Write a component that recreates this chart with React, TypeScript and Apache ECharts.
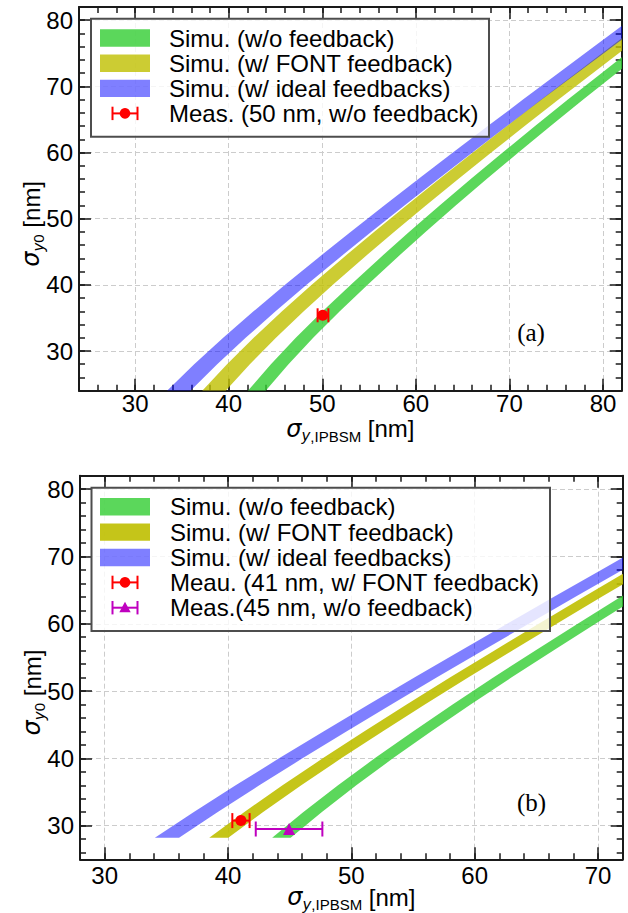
import React, { useEffect, useRef } from "react";
import * as echarts from "echarts";

// ---------- data ----------
// Panel (a): bands as sigma_y0 levels with lower / upper sigma_y,IPBSM
const topLevels = [24, 28, 32, 36, 40, 44, 48, 52, 56, 60, 64, 68, 72, 76, 80];
const topBlueLo = [33.41, 36.31, 39.41, 42.65, 46.02, 49.48, 53.02, 56.62, 60.27, 63.96, 67.69, 71.45, 75.22, 79.01, 82.82];
const topBlueHi = [35.91, 38.77, 41.81, 45.01, 48.32, 51.74, 55.22, 58.78, 62.39, 66.04, 69.73, 73.45, 77.22, 81.01, 84.82];
const topYellowLo = [37.17, 39.82, 42.67, 45.7, 48.87, 52.15, 55.53, 58.99, 62.52, 66.1, 69.73, 73.39, 77.1, 80.81, 84.54];
const topYellowHi = [39.67, 42.26, 45.05, 48.02, 51.13, 54.35, 57.67, 61.07, 64.54, 68.06, 71.63, 75.25, 78.9, 82.61, 86.34];
const topGreenLo = [42.05, 44.51, 47.17, 50.03, 53.05, 56.11, 59.27, 62.54, 65.87, 69.28, 72.74, 76.25, 79.83, 83.42, 87.05];
const topGreenHi = [43.95, 46.39, 49.03, 51.87, 54.85, 57.89, 61.03, 64.26, 67.57, 70.96, 74.4, 77.89, 81.43, 85.02, 88.65];
const topMeasX = [50.05];
const topMeasY = [35.4];
const topMeasLo = [49.5];
const topMeasHi = [50.65];

// Panel (b)
const botLevels = [28.2, 32, 36, 40, 44, 48, 52, 56, 60, 64, 68, 72];
const botBlueLo = [34.07, 37.2, 40.62, 44.14, 47.74, 51.4, 55.11, 58.85, 62.63, 66.43, 70.25, 74.1];
const botBlueHi = [36.03, 39.14, 42.54, 46.04, 49.6, 53.24, 56.91, 60.63, 64.39, 68.17, 71.97, 75.8];
const botYellowLo = [38.48, 41.3, 44.42, 47.68, 51.03, 54.48, 57.99, 61.57, 65.19, 68.86, 72.55, 76.28];
const botYellowHi = [40.02, 42.82, 45.94, 49.18, 52.53, 55.96, 59.47, 63.03, 66.65, 70.3, 73.99, 77.72];
const botGreenLo = [43.58, 46.09, 48.92, 51.89, 55.0, 58.21, 61.51, 64.89, 68.35, 71.85, 75.4, 78.99];
const botGreenHi = [45.08, 47.59, 50.4, 53.37, 56.46, 59.67, 62.97, 66.35, 69.79, 73.29, 76.84, 80.43];
const botFontX = [41.05];
const botFontY = [30.75];
const botFontLo = [40.35];
const botFontHi = [41.75];
const botNoFbX = [44.95];
const botNoFbY = [29.5];
const botNoFbLo = [42.25];
const botNoFbHi = [47.65];

const topLegendLabels = [
  "Simu. (w/o feedback)",
  "Simu. (w/ FONT feedback)",
  "Simu. (w/ ideal feedbacks)",
  "Meas. (50 nm, w/o feedback)",
];
const botLegendLabels = [
  "Simu. (w/o feedback)",
  "Simu. (w/ FONT feedback)",
  "Simu. (w/ ideal feedbacks)",
  "Meau. (41 nm, w/ FONT feedback)",
  "Meas.(45 nm, w/o feedback)",
];

// ---------- styles ----------
const GREEN = "rgba(50,205,50,0.8)";
const YELLOW_A = "rgba(191,191,0,0.8)";
const YELLOW_B = "rgba(191,191,0,0.9)";
const BLUE = "rgba(0,0,255,0.5)";
const RED = "#ff0000";
const MAGENTA = "#bf00bf";
const SANS = "'Liberation Sans', Arial, Helvetica, sans-serif";
const MATH = "'DejaVu Sans', sans-serif";
const SERIF = "'Liberation Serif', 'Times New Roman', serif";
const INK = "#1a1a1a";

function bandSeries(name: string, levels: number[], lo: number[], hi: number[], color: string, ai: number) {
  const data = levels.map((y, i) => [lo[i], y, hi[i]]);
  return {
    type: "custom",
    name,
    xAxisIndex: ai,
    yAxisIndex: ai,
    clip: true,
    z: 2,
    silent: true,
    data,
    encode: { x: [0, 2], y: 1 },
    renderItem: (params: any, api: any) => {
      if (params.dataIndex !== 0) return null;
      const left = data.map((d) => api.coord([d[0], d[1]]));
      const right = data.map((d) => api.coord([d[2], d[1]])).reverse();
      return {
        type: "polygon",
        shape: { points: left.concat(right) },
        style: { fill: color },
      };
    },
  };
}

function errSeries(xs: number[], ys: number[], lo: number[], hi: number[], color: string, ai: number, cap: number) {
  const data = xs.map((x, i) => [x, ys[i], lo[i], hi[i]]);
  return {
    type: "custom",
    xAxisIndex: ai,
    yAxisIndex: ai,
    z: 4,
    silent: true,
    data,
    encode: { x: [0, 2, 3], y: 1 },
    renderItem: (_p: any, api: any) => {
      const y = api.value(1);
      const a = api.coord([api.value(2), y]);
      const b = api.coord([api.value(3), y]);
      const st = { stroke: color, lineWidth: 2 };
      return {
        type: "group",
        children: [
          { type: "line", shape: { x1: a[0], y1: a[1], x2: b[0], y2: b[1] }, style: st },
          { type: "line", shape: { x1: a[0], y1: a[1] - cap, x2: a[0], y2: a[1] + cap }, style: st },
          { type: "line", shape: { x1: b[0], y1: b[1] - cap, x2: b[0], y2: b[1] + cap }, style: st },
        ],
      };
    },
  };
}

function markSeries(xs: number[], ys: number[], color: string, symbol: string, size: number, ai: number) {
  return {
    type: "scatter",
    xAxisIndex: ai,
    yAxisIndex: ai,
    z: 5,
    silent: true,
    symbol,
    symbolSize: size,
    itemStyle: { color, opacity: 1 },
    data: xs.map((x, i) => [x, ys[i]]),
  };
}

function axis(gridIndex: number, min: number, max: number, position: string, major: boolean, label: boolean, split: boolean, margin: number, extra: any = {}) {
  return {
    type: "value",
    gridIndex,
    min,
    max,
    position,
    minInterval: major ? 10 : 2,
    maxInterval: major ? 10 : 2,
    splitNumber: major ? 5 : 29,
    axisLine: { show: major, onZero: false, lineStyle: { color: INK, width: 2 } },
    axisTick: { show: true, inside: true, length: major ? 12 : 6, lineStyle: { color: INK, width: 1.5 } },
    axisLabel: {
      show: label,
      margin,
      fontSize: 24,
      fontFamily: SANS,
      color: "#000",
      formatter: (v: number) => (Math.abs(v % 10) < 1e-6 ? String(Math.round(v)) : ""),
    },
    splitLine: { show: split, lineStyle: { color: "#cccccc", width: 1, type: [5, 3] } },
    minorTick: { show: false },
    minorSplitLine: { show: false },
    axisPointer: { show: false },
    ...extra,
  };
}

const nameRich = {
  s: { fontFamily: MATH, fontStyle: "italic", fontSize: 24, lineHeight: 30, color: "#000" },
  sy: { fontFamily: MATH, fontStyle: "italic", fontSize: 15, lineHeight: 16, verticalAlign: "bottom", color: "#000" },
  sr: { fontFamily: SANS, fontSize: 15, lineHeight: 16, verticalAlign: "bottom", color: "#000" },
  n: { fontFamily: SANS, fontSize: 24, lineHeight: 30, color: "#000" },
};
const xName = "{s|σ}{sy|y}{sr|,IPBSM}{n| [nm]}";
const yName = "{s|σ}{sy|y}{sr|0}{n| [nm]}";

function xAxesFor(g: number, min: number, max: number, labelMargin: number) {
  return [
    axis(g, min, max, "bottom", true, true, true, labelMargin, {
      name: xName,
      nameLocation: "middle",
      nameGap: 23,
      nameMoveOverlap: false,
      nameTextStyle: { rich: nameRich },
    }),
    axis(g, min, max, "top", true, false, false, 0),
    axis(g, min, max, "bottom", false, false, false, 0),
    axis(g, min, max, "top", false, false, false, 0),
  ];
}
function yAxesFor(g: number, min: number, max: number) {
  return [
    axis(g, min, max, "left", true, true, true, 6, {
      name: yName,
      nameLocation: "middle",
      nameGap: 33,
      nameMoveOverlap: false,
      nameTextStyle: { rich: nameRich, padding: [0, 50, 0, 0] },
    }),
    axis(g, min, max, "right", true, false, false, 0),
    axis(g, min, max, "left", false, false, false, 0),
    axis(g, min, max, "right", false, false, false, 0),
  ];
}

type Row = { kind: "patch" | "err"; y: number; color: string; symbol?: string; label: string };

function legendGraphic(box: { x: number; y: number; width: number; height: number }, textX: number, rows: Row[]) {
  const els: any[] = [
    {
      type: "rect",
      z: 100,
      shape: box,
      style: { fill: "rgba(255,255,255,0.8)", stroke: "#4d4d4d", lineWidth: 2 },
    },
  ];
  rows.forEach((r) => {
    if (r.kind === "patch") {
      els.push({ type: "rect", z: 101, shape: { x: 100, y: r.y - 8.7, width: 50, height: 17.4 }, style: { fill: r.color } });
    } else {
      const st = { stroke: r.color, lineWidth: 2 };
      els.push({ type: "line", z: 101, shape: { x1: 112.5, y1: r.y, x2: 137.5, y2: r.y }, style: st });
      els.push({ type: "line", z: 101, shape: { x1: 112.5, y1: r.y - 6.7, x2: 112.5, y2: r.y + 6.7 }, style: st });
      els.push({ type: "line", z: 101, shape: { x1: 137.5, y1: r.y - 6.7, x2: 137.5, y2: r.y + 6.7 }, style: st });
      if (r.symbol === "triangle") {
        els.push({
          type: "polygon",
          z: 102,
          shape: { points: [[125, r.y - 6], [119.3, r.y + 4.5], [130.7, r.y + 4.5]] },
          style: { fill: r.color },
        });
      } else {
        els.push({ type: "circle", z: 102, shape: { cx: 125, cy: r.y, r: 5.3 }, style: { fill: r.color } });
      }
    }
    els.push({
      type: "text",
      z: 101,
      x: textX,
      y: r.y,
      style: {
        text: r.label,
        fontSize: 24,
        fontFamily: SANS,
        fill: "#000",
        align: "left",
        verticalAlign: "middle",
        textAlign: "left",
        textVerticalAlign: "middle",
      },
    });
  });
  return els;
}

const topRows: Row[] = [
  { kind: "patch", y: 38, color: GREEN, label: topLegendLabels[0] },
  { kind: "patch", y: 63.2, color: YELLOW_A, label: topLegendLabels[1] },
  { kind: "patch", y: 88.4, color: BLUE, label: topLegendLabels[2] },
  { kind: "err", y: 113.4, color: RED, symbol: "circle", label: topLegendLabels[3] },
];
const botRows: Row[] = [
  { kind: "patch", y: 506.7, color: GREEN, label: botLegendLabels[0] },
  { kind: "patch", y: 532.1, color: YELLOW_B, label: botLegendLabels[1] },
  { kind: "patch", y: 557.5, color: BLUE, label: botLegendLabels[2] },
  { kind: "err", y: 582.4, color: RED, symbol: "circle", label: botLegendLabels[3] },
  { kind: "err", y: 607.7, color: MAGENTA, symbol: "triangle", label: botLegendLabels[4] },
];

const panelTag = (text: string, x: number, y: number) => ({
  type: "text",
  z: 100,
  x,
  y,
  style: {
    text,
    fontSize: 25,
    fontFamily: SERIF,
    fill: "#000",
    align: "center",
    verticalAlign: "middle",
    textAlign: "center",
    textVerticalAlign: "middle",
  },
});

const option: any = {
  animation: false,
  backgroundColor: "#ffffff",
  grid: [
    { left: 79, right: 6.3, top: 7, bottom: 522.3, containLabel: false, outerBoundsMode: "none" },
    { left: 80, right: 5.3, top: 475.7, bottom: 53.7, containLabel: false, outerBoundsMode: "none" },
  ],
  xAxis: [...xAxesFor(0, 24, 82, 1), ...xAxesFor(1, 28, 72, 4)],
  yAxis: [...yAxesFor(0, 24, 82), ...yAxesFor(1, 25, 82)],
  series: [
    bandSeries("Simu. (w/o feedback)", topLevels, topGreenLo, topGreenHi, GREEN, 0),
    bandSeries("Simu. (w/ FONT feedback)", topLevels, topYellowLo, topYellowHi, YELLOW_A, 0),
    bandSeries("Simu. (w/ ideal feedbacks)", topLevels, topBlueLo, topBlueHi, BLUE, 0),
    errSeries(topMeasX, topMeasY, topMeasLo, topMeasHi, RED, 0, 7),
    markSeries(topMeasX, topMeasY, RED, "circle", 11, 0),
    bandSeries("Simu. (w/o feedback)", botLevels, botGreenLo, botGreenHi, GREEN, 4),
    bandSeries("Simu. (w/ FONT feedback)", botLevels, botYellowLo, botYellowHi, YELLOW_B, 4),
    bandSeries("Simu. (w/ ideal feedbacks)", botLevels, botBlueLo, botBlueHi, BLUE, 4),
    errSeries(botFontX, botFontY, botFontLo, botFontHi, RED, 4, 7.5),
    markSeries(botFontX, botFontY, RED, "circle", 11, 4),
    errSeries(botNoFbX, botNoFbY, botNoFbLo, botNoFbHi, MAGENTA, 4, 7.5),
    markSeries(botNoFbX, botNoFbY, MAGENTA, "triangle", 12, 4),
  ],
  graphic: [
    ...legendGraphic({ x: 91, y: 18.7, width: 398, height: 118 }, 169, topRows),
    ...legendGraphic({ x: 91.5, y: 487.7, width: 458.5, height: 143.3 }, 170, botRows),
    panelTag("(a)", 531, 332),
    panelTag("(b)", 531.5, 802.5),
  ],
};

export default function App() {
  const ref = useRef<HTMLDivElement>(null);
  useEffect(() => {
    if (!ref.current) return;
    const chart = echarts.init(ref.current, null, { renderer: "svg" });
    chart.setOption(option);
    return () => chart.dispose();
  }, []);
  return (
    <div
      ref={ref}
      style={{ position: "absolute", left: 0, top: 0, width: 628, height: 913, background: "#fff" }}
    />
  );
}
